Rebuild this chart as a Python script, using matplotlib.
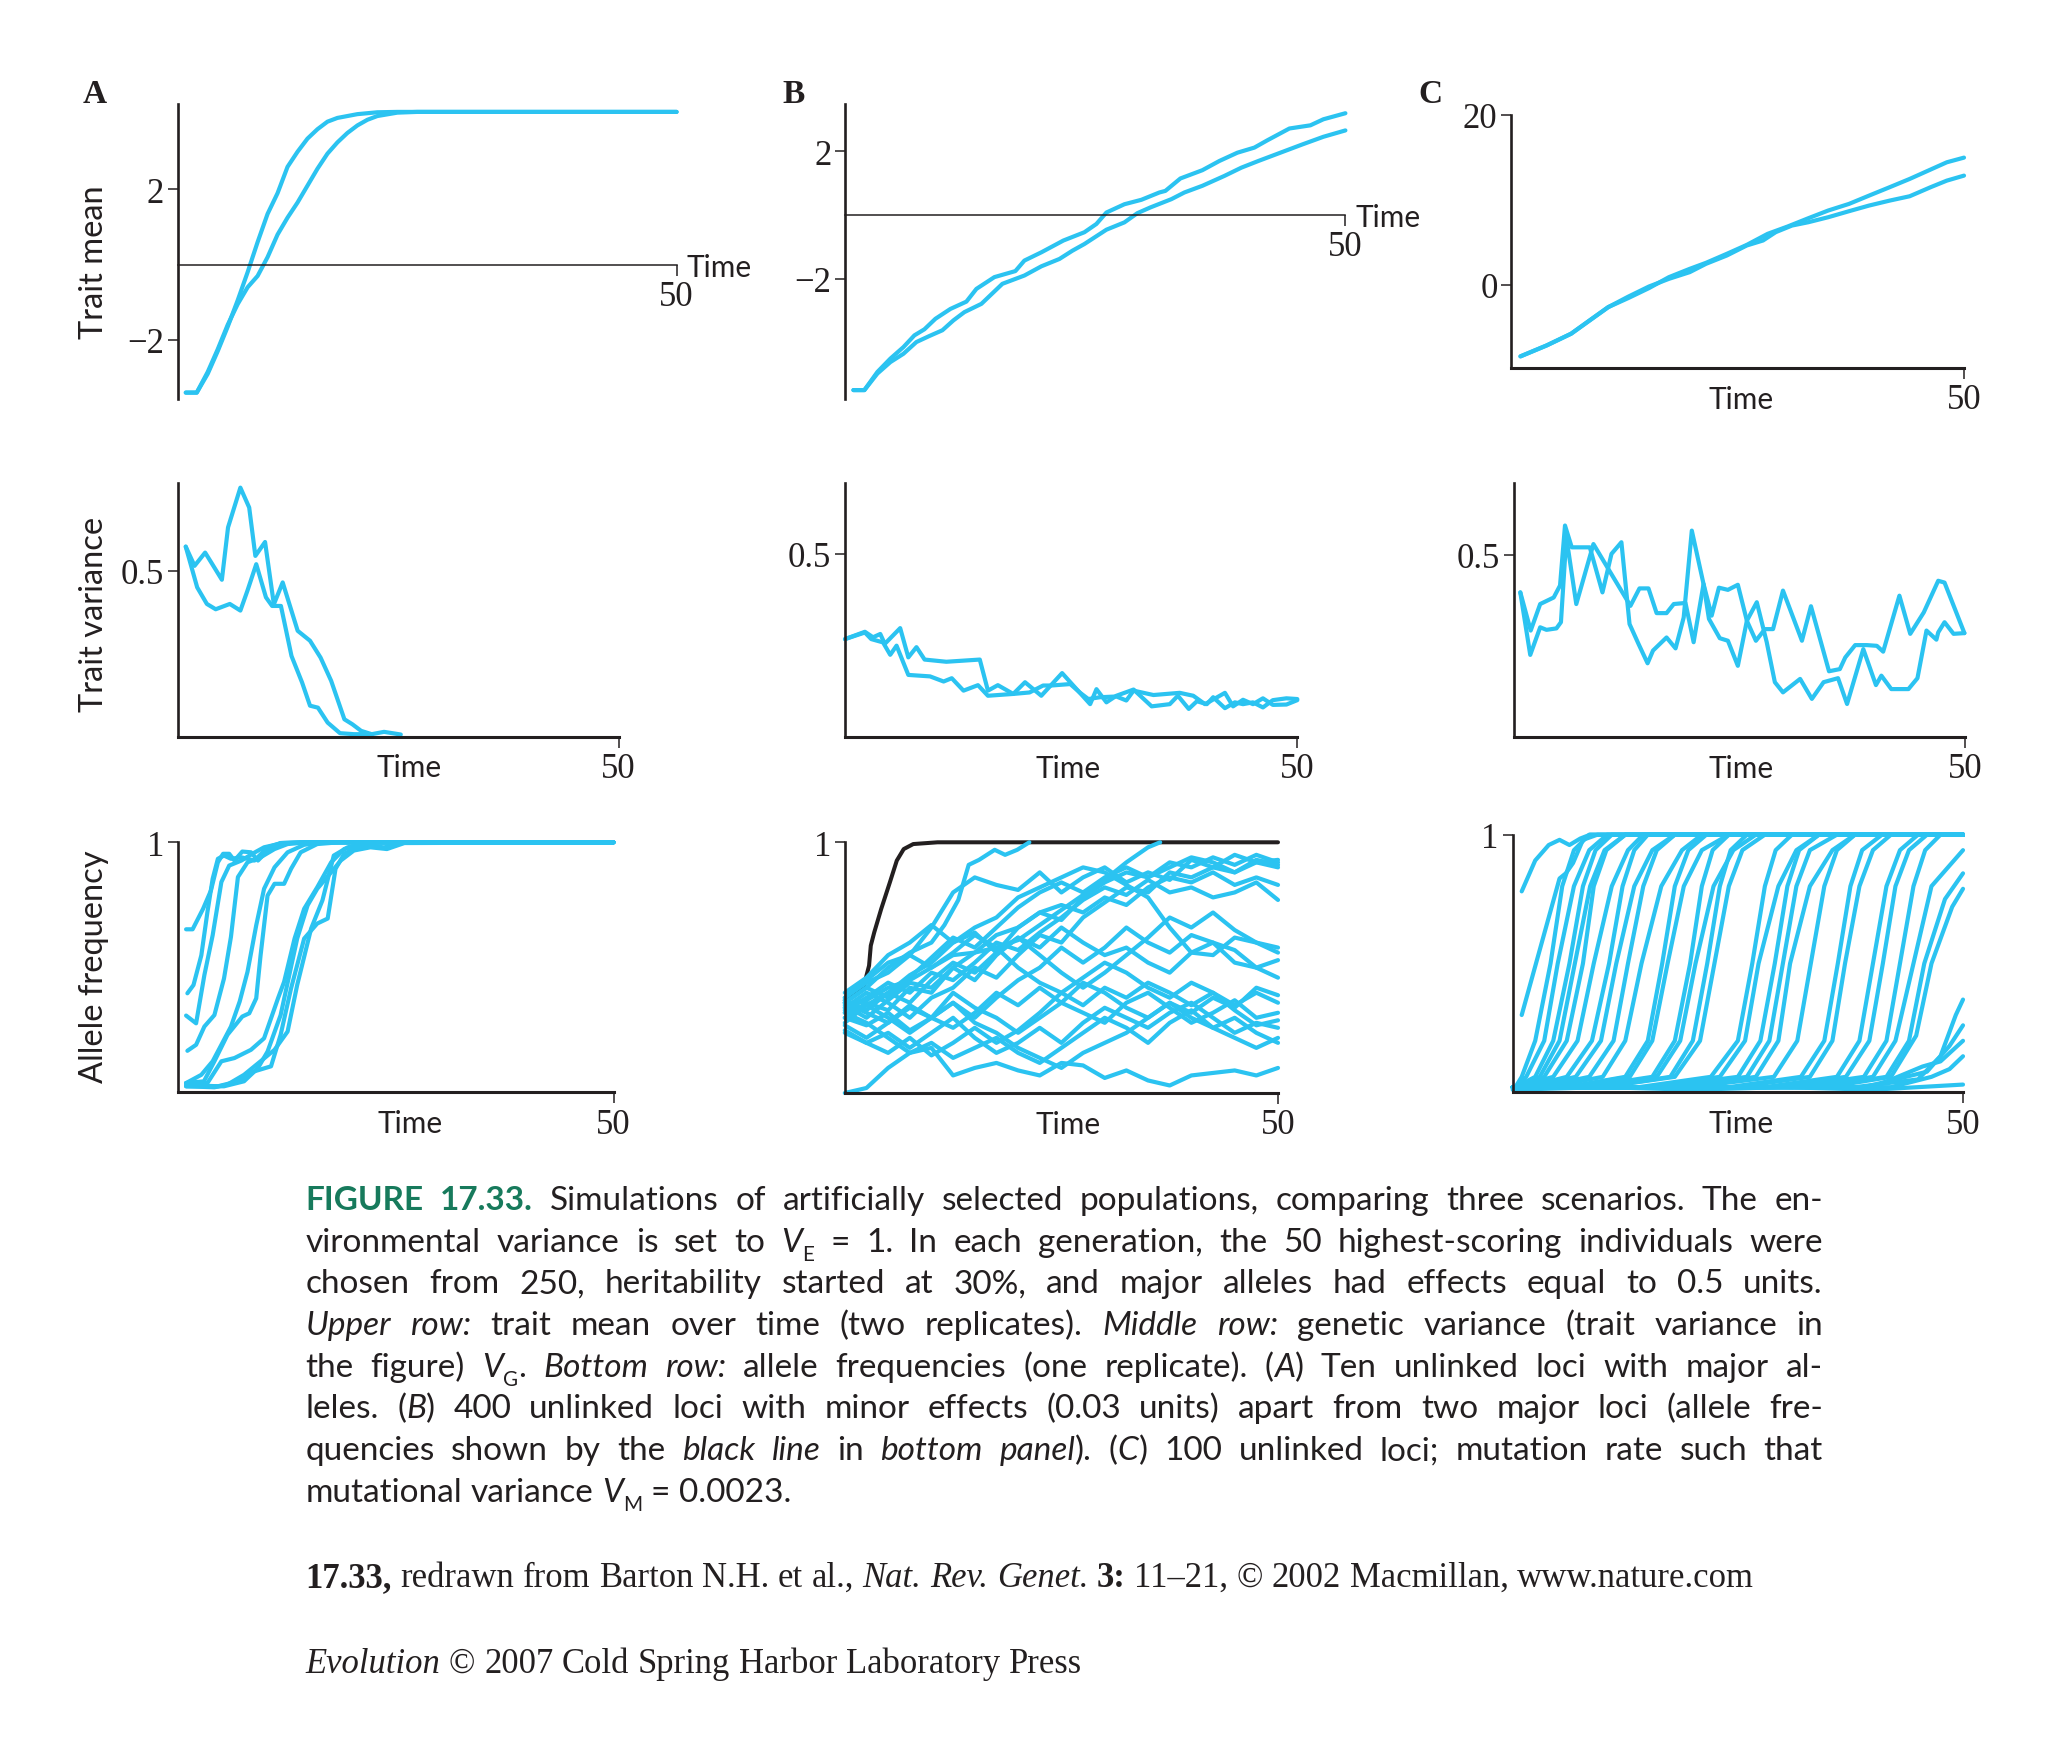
import matplotlib
matplotlib.use("Agg")
import matplotlib.pyplot as plt
import matplotlib.transforms as mtransforms

W, H, DPI = 2058, 1758, 100
BLUE = '#2bc3f1'
INK = '#231f20'
GREEN = '#177a5c'
SANS = 'Lato'
SERIF = 'Liberation Serif'

# ---------------- data ----------------
# top row: trait mean, two replicates
A_mean_t1 = [0.8, 1.9, 3, 4, 5, 6, 7, 8, 9, 10, 11, 12, 13, 14, 15, 16, 18, 20, 22, 50]
A_mean_y1 = [-3.4, -3.4, -2.9, -2.3, -1.65, -0.95, -0.2, 0.6, 1.35, 1.9, 2.6, 3.0, 3.35, 3.6,
             3.8, 3.9, 4.0, 4.05, 4.06, 4.06]
A_mean_t2 = [0.8, 1.9, 3, 4, 5, 6, 7, 8, 9, 10, 11, 12, 13, 14, 15, 16, 17, 18, 19, 20, 22, 24, 50]
A_mean_y2 = [-3.4, -3.4, -2.85, -2.25, -1.6, -1.05, -0.6, -0.3, 0.2, 0.8, 1.25, 1.65, 2.1, 2.55,
             2.95, 3.25, 3.5, 3.7, 3.85, 3.95, 4.04, 4.06, 4.06]

B_mean_t1 = [0.8, 1.9, 3.2, 4.5, 5.8, 6.9, 7.9, 9.0, 10.5, 12.1, 13.1, 14.9, 17.0, 17.9, 19.6, 21.8,
             23.9, 25.1, 26.1, 27.9, 29.6, 31.4, 32.0, 33.5, 35.7, 37.4, 39.2, 40.9, 42.2, 44.4,
             46.5, 47.8, 50]
B_mean_y1 = [-5.5, -5.5, -4.93, -4.51, -4.15, -3.78, -3.59, -3.26, -2.95, -2.72, -2.32, -1.95,
             -1.76, -1.43, -1.17, -0.8, -0.54, -0.28, 0.08, 0.34, 0.48, 0.71, 0.76, 1.15, 1.41,
             1.70, 1.96, 2.12, 2.35, 2.72, 2.82, 3.01, 3.2]
B_mean_t2 = [0.8, 1.9, 3.2, 4.5, 5.8, 7.1, 8.4, 9.7, 10.8, 11.9, 13.6, 15.7, 17.9, 19.6, 21.4, 22.7,
             23.9, 26.1, 27.9, 29.2, 30.5, 32.6, 33.9, 35.7, 37.9, 39.6, 41.3, 43.5, 45.7, 47.8, 50]
B_mean_y2 = [-5.5, -5.5, -4.98, -4.62, -4.36, -3.99, -3.80, -3.62, -3.31, -3.05, -2.79, -2.16,
             -1.90, -1.61, -1.38, -1.12, -0.91, -0.46, -0.23, 0.06, 0.24, 0.50, 0.71, 0.92, 1.23,
             1.49, 1.70, 1.96, 2.22, 2.46, 2.66]

C_mean_t1 = [1.0, 3.9, 6.6, 8.9, 10.7, 12.9, 15.2, 17.4, 19.7, 21.5, 23.8, 26.0, 28.3, 30.5, 32.8,
             35.0, 37.3, 39.5, 41.8, 44.0, 46.3, 48.1, 50]
C_mean_y1 = [-8.43, -7.14, -5.76, -4.0, -2.63, -1.57, -0.39, 0.9, 1.88, 2.59, 3.65, 4.7, 6.0, 6.86,
             7.84, 8.75, 9.53, 10.5, 11.5, 12.47, 13.57, 14.43, 14.98]
C_mean_t2 = [1.0, 3.9, 6.6, 8.9, 10.7, 12.9, 15.2, 17.4, 19.7, 21.5, 23.8, 26.0, 27.8, 29.2, 31.0,
             32.8, 35.0, 37.3, 39.5, 41.8, 44.0, 46.3, 48.1, 50]
C_mean_y2 = [-8.43, -7.14, -5.76, -4.0, -2.63, -1.4, -0.2, 0.7, 1.49, 2.47, 3.45, 4.63, 5.22, 6.2,
             6.98, 7.37, 7.96, 8.67, 9.33, 9.92, 10.43, 11.49, 12.27, 12.86]

# middle row: trait variance, two replicates
A_var_t1 = [0.9, 1.9, 3.1, 3.8, 5.0, 5.7, 7.1, 8.1, 8.8, 9.9, 10.9, 11.9, 13.6, 15.0, 16.2, 17.4,
            18.9, 19.8, 20.8, 22.0, 23.4, 25.3]
A_var_y1 = [0.573, 0.515, 0.555, 0.525, 0.473, 0.631, 0.751, 0.691, 0.545, 0.587, 0.399, 0.465,
            0.319, 0.289, 0.238, 0.168, 0.052, 0.037, 0.017, 0.007, 0.014, 0.006]
A_var_t2 = [0.9, 2.2, 3.3, 4.3, 5.9, 7.1, 7.9, 8.9, 10.0, 10.7, 11.7, 12.9, 14.1, 15.0, 15.9, 17.0,
            18.4, 20.0, 22.0]
A_var_y2 = [0.573, 0.45, 0.40, 0.384, 0.40, 0.38, 0.44, 0.52, 0.42, 0.394, 0.394, 0.243, 0.163,
            0.093, 0.087, 0.042, 0.01, 0.007, 0.007]

B_var_t1 = [0, 2.2, 3.1, 3.9, 4.4, 6.1, 7.0, 7.9, 8.8, 11.2, 14.9, 15.8, 16.9, 18.6, 19.9, 21.7,
            24.0, 25.2, 27.1, 27.8, 28.9, 30.0, 31.9, 33.9, 35.9, 36.8, 38.0, 38.9, 40.0, 40.7,
            42.0, 43.1, 44.0, 45.1, 46.2, 47.3, 48.8, 50]
B_var_y1 = [0.267, 0.287, 0.272, 0.281, 0.254, 0.297, 0.217, 0.245, 0.211, 0.205, 0.211, 0.126,
            0.141, 0.117, 0.149, 0.112, 0.174, 0.141, 0.089, 0.130, 0.094, 0.112, 0.129, 0.083,
            0.089, 0.112, 0.076, 0.097, 0.089, 0.108, 0.078, 0.094, 0.089, 0.094, 0.080, 0.100,
            0.105, 0.103]
B_var_t2 = [0, 2.2, 2.9, 4.2, 5.0, 5.7, 7.0, 9.4, 10.9, 11.8, 13.1, 14.7, 15.8, 18.6, 20.4, 21.9,
            22.8, 24.9, 26.0, 26.9, 28.2, 30.0, 31.1, 31.9, 34.1, 37.0, 38.5, 39.8, 42.0, 42.9,
            44.0, 45.1, 46.2, 47.3, 48.8, 50]
B_var_y2 = [0.267, 0.285, 0.267, 0.258, 0.224, 0.249, 0.169, 0.165, 0.151, 0.160, 0.126, 0.141,
            0.112, 0.117, 0.121, 0.140, 0.140, 0.144, 0.120, 0.103, 0.108, 0.110, 0.099, 0.126,
            0.114, 0.120, 0.112, 0.089, 0.120, 0.083, 0.101, 0.089, 0.105, 0.087, 0.088, 0.100]

C_var_t1 = [0.7, 1.85, 2.9, 4.4, 5.1, 5.65, 6.4, 8.4, 9.8, 10.8, 11.9, 12.8, 13.8, 14.8, 15.4,
            16.9, 17.9, 18.8, 19.7, 21.0, 21.6, 22.8, 23.7, 24.8, 25.8, 26.9, 28.0, 28.9, 29.8,
            31.7, 33.0, 34.3, 35.9, 36.9, 38.7, 40.1, 40.7, 41.8, 43.7, 44.7, 45.7, 46.8, 47.0,
            47.7, 48.7, 49.9]
C_var_y1 = [0.397, 0.292, 0.365, 0.383, 0.416, 0.581, 0.521, 0.521, 0.397, 0.503, 0.535, 0.31,
            0.255, 0.202, 0.237, 0.273, 0.243, 0.328, 0.567, 0.42, 0.324, 0.271, 0.264, 0.195,
            0.319, 0.37, 0.26, 0.15, 0.122, 0.159, 0.104, 0.15, 0.161, 0.09, 0.241, 0.142, 0.168,
            0.131, 0.131, 0.161, 0.292, 0.267, 0.287, 0.315, 0.283, 0.285]
C_var_t2 = [0.7, 1.8, 2.9, 3.6, 4.7, 5.2, 5.8, 6.9, 8.8, 12.9, 13.9, 14.9, 15.8, 16.9, 17.7, 19.0,
            19.9, 21.0, 21.9, 22.7, 23.7, 24.8, 25.8, 26.8, 27.8, 28.7, 29.8, 31.9, 32.9, 34.9,
            36.1, 36.7, 37.8, 39.1, 40.2, 40.9, 42.7, 43.9, 45.4, 47.0, 47.7, 49.9]
C_var_y2 = [0.397, 0.225, 0.301, 0.294, 0.298, 0.315, 0.549, 0.365, 0.53, 0.36, 0.408, 0.408,
            0.34, 0.34, 0.365, 0.368, 0.26, 0.42, 0.333, 0.41, 0.404, 0.418, 0.319, 0.264, 0.296,
            0.296, 0.402, 0.264, 0.359, 0.18, 0.186, 0.218, 0.252, 0.252, 0.25, 0.234, 0.388,
            0.283, 0.342, 0.429, 0.424, 0.285]

# bottom row A: ten loci with major alleles
A_freq_t = [
    [0.95, 1.7, 2.9, 3.8, 4.6, 5.2, 5.9, 6.5, 7.4, 8.4, 9.2, 10.3, 11.8, 14.5, 50],
    [1.1, 1.8, 2.7, 3.4, 4.0, 4.6, 5.3, 6.1, 7.3, 8.8, 10.3, 11.8, 14.0, 50],
    [0.95, 2.1, 3.05, 4.0, 5.0, 5.9, 7.3, 8.6, 9.9, 11.8, 14.5, 50],
    [1.1, 2.1, 3.05, 4.2, 5.3, 6.1, 6.9, 8.0, 9.5, 11.1, 12.6, 15.0, 50],
    [0.95, 2.7, 4.0, 5.0, 6.1, 7.1, 8.0, 9.0, 9.9, 11.1, 12.6, 14.5, 16.5, 50],
    [0.95, 3.0, 4.2, 5.7, 7.4, 8.2, 9.0, 9.5, 10.3, 11.1, 12.2, 13.0, 14.1, 16.0, 18.5, 50],
    [0.95, 3.4, 5.0, 6.5, 8.4, 9.9, 11.5, 12.2, 13.4, 14.5, 16.0, 17.6, 19.1, 21.0, 23.0, 50],
    [0.95, 4.6, 6.9, 8.8, 10.7, 11.8, 13.0, 14.5, 16.0, 17.2, 18.1, 19.1, 21.0, 23.7, 25.6, 27.0, 50],
    [0.95, 5.3, 7.6, 9.2, 10.3, 11.8, 13.7, 14.9, 16.0, 17.6, 18.7, 20.2, 22.1, 24.0, 26.0, 50],
    [0.95, 4.2, 5.7, 7.6, 9.5, 11.1, 12.6, 13.7, 15.3, 16.6, 17.9, 19.5, 22.0, 50],
]
A_freq_y = [
    [0.652, 0.652, 0.734, 0.807, 0.92, 0.954, 0.954, 0.927, 0.963, 0.96, 0.927, 0.967, 0.997, 1.0, 1.0],
    [0.396, 0.429, 0.548, 0.721, 0.854, 0.934, 0.947, 0.934, 0.94, 0.927, 0.98, 0.997, 1.0, 1.0],
    [0.307, 0.276, 0.469, 0.628, 0.841, 0.907, 0.927, 0.955, 0.98, 0.995, 1.0, 1.0],
    [0.166, 0.19, 0.263, 0.309, 0.455, 0.622, 0.861, 0.92, 0.94, 0.973, 0.993, 1.0, 1.0],
    [0.037, 0.07, 0.124, 0.19, 0.263, 0.363, 0.482, 0.668, 0.814, 0.9, 0.96, 0.99, 1.0, 1.0],
    [0.037, 0.044, 0.124, 0.23, 0.303, 0.316, 0.376, 0.548, 0.787, 0.834, 0.834, 0.894, 0.96, 0.993, 1.0, 1.0],
    [0.037, 0.037, 0.124, 0.137, 0.17, 0.216, 0.376, 0.442, 0.615, 0.734, 0.82, 0.92, 0.973, 0.99, 1.0, 1.0],
    [0.03, 0.024, 0.044, 0.084, 0.104, 0.23, 0.416, 0.615, 0.675, 0.695, 0.894, 0.954, 0.987, 0.98, 0.997, 1.0, 1.0],
    [0.024, 0.024, 0.044, 0.097, 0.163, 0.309, 0.615, 0.748, 0.814, 0.88, 0.927, 0.967, 0.98, 0.973, 0.997, 1.0],
    [0.024, 0.02, 0.031, 0.07, 0.124, 0.17, 0.243, 0.429, 0.655, 0.768, 0.947, 0.98, 1.0, 1.0],
]

# bottom row B: 400 minor loci (blue) and the two major loci (black)
B_major_t = [0, 1, 2.2, 2.8, 3.0, 3.4, 4.2, 5.2, 6.0, 6.8, 7.9, 10.7, 50]
B_major_y = [0.37, 0.39, 0.428, 0.508, 0.588, 0.641, 0.734, 0.84, 0.927, 0.973, 0.993, 1.0, 1.0]
B_grid_t = [0, 2.5, 5, 7.5, 10, 12.5, 15, 17.5, 20, 22.5, 25, 27.5, 30, 32.5, 35, 37.5, 40, 42.5,
            45, 47.5, 50]
B_fixed_t = [
    [0, 2.5, 5, 7.5, 10, 11.5, 13.1, 14.3, 15.5, 17.3, 18.5, 19.9, 21.3],
    [0, 2.5, 5, 7.5, 10, 12.5, 15, 17.5, 20, 22.5, 25, 27.5, 30, 32.5, 35, 36.4],
]
B_fixed_y = [
    [0.36, 0.42, 0.5, 0.56, 0.6, 0.67, 0.77, 0.91, 0.93, 0.97, 0.95, 0.97, 1.0],
    [0.34, 0.37, 0.42, 0.45, 0.5, 0.55, 0.56, 0.58, 0.61, 0.67, 0.73, 0.79, 0.85, 0.92, 0.98, 1.0],
]
B_minor_y = [
    [0.38, 0.45, 0.52, 0.55, 0.66, 0.8, 0.86, 0.83, 0.81, 0.88, 0.8, 0.86, 0.9, 0.84, 0.88, 0.85, 0.93, 0.9, 0.95, 0.92, 0.93],
    [0.0, 0.02, 0.1, 0.16, 0.18, 0.07, 0.1, 0.12, 0.09, 0.07, 0.12, 0.11, 0.06, 0.09, 0.05, 0.03, 0.07, 0.08, 0.09, 0.07, 0.1],
    [0.32, 0.35, 0.4, 0.47, 0.52, 0.6, 0.66, 0.7, 0.78, 0.82, 0.86, 0.9, 0.88, 0.83, 0.78, 0.66, 0.56, 0.55, 0.62, 0.6, 0.56],
    [0.3, 0.36, 0.33, 0.42, 0.4, 0.5, 0.45, 0.55, 0.62, 0.58, 0.66, 0.6, 0.55, 0.58, 0.52, 0.48, 0.56, 0.6, 0.57, 0.5, 0.53],
    [0.35, 0.3, 0.37, 0.44, 0.42, 0.5, 0.56, 0.63, 0.66, 0.72, 0.75, 0.72, 0.78, 0.75, 0.82, 0.86, 0.84, 0.88, 0.83, 0.86, 0.83],
    [0.33, 0.38, 0.44, 0.4, 0.48, 0.45, 0.52, 0.6, 0.57, 0.64, 0.7, 0.77, 0.82, 0.79, 0.85, 0.8, 0.82, 0.78, 0.8, 0.84, 0.77],
    [0.37, 0.33, 0.4, 0.36, 0.45, 0.52, 0.48, 0.56, 0.66, 0.72, 0.69, 0.78, 0.84, 0.88, 0.86, 0.92, 0.9, 0.94, 0.91, 0.95, 0.92],
    [0.34, 0.4, 0.36, 0.3, 0.38, 0.42, 0.5, 0.46, 0.55, 0.63, 0.6, 0.7, 0.76, 0.82, 0.8, 0.88, 0.86, 0.9, 0.88, 0.93, 0.91],
    [0.3, 0.27, 0.32, 0.25, 0.3, 0.36, 0.3, 0.38, 0.45, 0.5, 0.58, 0.52, 0.58, 0.66, 0.6, 0.56, 0.63, 0.6, 0.52, 0.5, 0.46],
    [0.36, 0.32, 0.28, 0.34, 0.3, 0.26, 0.32, 0.4, 0.35, 0.42, 0.36, 0.44, 0.4, 0.34, 0.3, 0.36, 0.32, 0.38, 0.34, 0.42, 0.39],
    [0.27, 0.22, 0.28, 0.35, 0.3, 0.4, 0.34, 0.3, 0.24, 0.3, 0.36, 0.32, 0.28, 0.36, 0.4, 0.34, 0.28, 0.32, 0.37, 0.3, 0.32],
    [0.25, 0.2, 0.24, 0.18, 0.24, 0.3, 0.22, 0.16, 0.2, 0.26, 0.2, 0.28, 0.34, 0.3, 0.26, 0.32, 0.36, 0.3, 0.24, 0.28, 0.26],
    [0.32, 0.28, 0.22, 0.16, 0.2, 0.14, 0.18, 0.22, 0.16, 0.12, 0.18, 0.24, 0.3, 0.26, 0.2, 0.28, 0.33, 0.26, 0.22, 0.18, 0.22],
    [0.28, 0.35, 0.3, 0.24, 0.3, 0.36, 0.28, 0.24, 0.18, 0.14, 0.1, 0.16, 0.2, 0.24, 0.3, 0.36, 0.3, 0.26, 0.3, 0.24, 0.2],
    [0.38, 0.44, 0.48, 0.55, 0.5, 0.56, 0.63, 0.58, 0.5, 0.44, 0.4, 0.46, 0.52, 0.48, 0.42, 0.38, 0.44, 0.4, 0.35, 0.4, 0.36],
    [0.4, 0.46, 0.55, 0.6, 0.67, 0.6, 0.64, 0.56, 0.62, 0.55, 0.48, 0.42, 0.48, 0.55, 0.62, 0.7, 0.66, 0.72, 0.65, 0.6, 0.58],
    [0.24, 0.2, 0.16, 0.22, 0.15, 0.2, 0.26, 0.2, 0.25, 0.32, 0.4, 0.35, 0.42, 0.38, 0.44, 0.4, 0.35, 0.4, 0.33, 0.27, 0.29],
    [0.36, 0.42, 0.38, 0.46, 0.54, 0.62, 0.58, 0.66, 0.74, 0.8, 0.84, 0.8, 0.86, 0.9, 0.86, 0.9, 0.94, 0.92, 0.88, 0.92, 0.9],
]

# bottom row C: 100 loci with mutation; most sweeps share these frequency levels
C_sweep_levels = [0.02, 0.06, 0.2, 0.5, 0.8, 0.94, 1.0]
C_sweep_t = [
    [0.3, 1.0, 2.5, 4.2, 5.5, 6.8, 8.5],
    [0.3, 1.5, 3.5, 5.0, 6.8, 8.5, 10.5],
    [0.3, 2.5, 4.5, 6.3, 7.8, 9.2, 11.0],
    [0.3, 3.0, 5.2, 6.9, 8.6, 10.2, 12.5],
    [0.3, 3.5, 6.0, 7.8, 9.0, 10.4, 12.5],
    [0.3, 4.5, 7.2, 9.0, 11.0, 12.8, 14.5],
    [1.5, 6.0, 8.8, 10.7, 12.2, 13.5, 15.0],
    [2.0, 7.0, 9.8, 11.5, 13.5, 15.5, 18.0],
    [3.0, 8.5, 11.2, 12.8, 14.5, 16.0, 18.0],
    [4.0, 10.0, 12.5, 14.3, 16.5, 18.8, 21.0],
    [6.0, 12.5, 15.0, 16.6, 18.0, 19.5, 21.5],
    [6.0, 13.0, 15.5, 17.2, 19.0, 21.0, 24.0],
    [8.0, 15.5, 18.0, 19.7, 21.0, 22.2, 24.0],
    [9.0, 16.0, 18.6, 20.3, 22.3, 24.5, 27.0],
    [10.0, 17.5, 20.0, 21.6, 23.0, 24.2, 26.0],
    [10.0, 18.0, 20.8, 22.4, 24.0, 25.5, 28.0],
    [14.0, 22.0, 25.0, 26.6, 28.0, 29.2, 31.0],
    [15.0, 23.0, 25.8, 27.3, 29.5, 31.5, 34.0],
    [16.0, 25.0, 27.5, 29.1, 30.5, 31.8, 34.0],
    [18.0, 26.0, 28.5, 30.0, 31.5, 33.0, 36.0],
    [19.0, 27.0, 29.5, 30.8, 33.0, 35.5, 38.0],
    [20.0, 29.0, 31.6, 33.1, 34.6, 36.0, 38.0],
    [24.0, 32.0, 34.6, 36.1, 37.5, 38.8, 41.0],
    [25.0, 33.0, 35.5, 36.9, 38.5, 40.0, 42.0],
    [28.0, 36.0, 38.5, 40.0, 41.5, 43.0, 45.0],
    [29.0, 37.0, 39.6, 41.1, 42.5, 44.0, 46.0],
    [31.0, 39.0, 41.5, 43.0, 44.5, 45.8, 47.5],
]
C_other_t = [
    [1.0, 2.5, 4.0, 5.2, 6.3, 7.5, 8.6, 50],
    [1.0, 5.2, 5.9, 6.7, 7.8, 9.4, 50],
    [0, 33, 40, 42.5, 44.5, 46.5, 50],
    [0, 34, 41.5, 44.0, 45.7, 48.0, 50],
    [0, 35, 42, 44.8, 46.5, 48.8, 50],
    [0, 38, 45, 47.5, 49.2, 50],
    [0, 39, 46, 48.5, 50],
    [0, 40, 45.5, 47.5, 50],
    [0, 42, 46.5, 48.5, 50],
    [0, 10, 20, 30, 40, 50],
]
C_other_y = [
    [0.78, 0.9, 0.96, 0.98, 0.96, 0.985, 1.0, 1.0],
    [0.3, 0.83, 0.85, 0.89, 0.98, 1.0, 1.0],
    [0.02, 0.02, 0.06, 0.2, 0.5, 0.8, 0.94],
    [0.02, 0.02, 0.06, 0.2, 0.5, 0.75, 0.85],
    [0.02, 0.02, 0.06, 0.22, 0.5, 0.72, 0.79],
    [0.02, 0.02, 0.05, 0.14, 0.3, 0.36],
    [0.02, 0.02, 0.08, 0.18, 0.26],
    [0.02, 0.02, 0.1, 0.12, 0.2],
    [0.02, 0.02, 0.06, 0.09, 0.14],
    [0.01, 0.02, 0.01, 0.02, 0.01, 0.03],
]

# ---------------- caption text ----------------
CAPTION = [
    [("FIGURE 17.33.", 'fig'), (" Simulations of artificially selected populations, comparing three scenarios. The en-", 'rm')],
    [("vironmental variance is set to ", 'rm'), ("V", 'it'), ("E", 'sub'),
     (" = 1. In each generation, the 50 highest-scoring individuals were", 'rm')],
    [("chosen from 250, heritability started at 30%, and major alleles had effects equal to 0.5 units.", 'rm')],
    [("Upper row:", 'it'), (" trait mean over time (two replicates). ", 'rm'), ("Middle row:", 'it'),
     (" genetic variance (trait variance in", 'rm')],
    [("the figure) ", 'rm'), ("V", 'it'), ("G", 'sub'), (". ", 'rm'), ("Bottom row:", 'it'),
     (" allele frequencies (one replicate). (", 'rm'), ("A", 'it'), (") Ten unlinked loci with major al-", 'rm')],
    [("leles. (", 'rm'), ("B", 'it'),
     (") 400 unlinked loci with minor effects (0.03 units) apart from two major loci (allele fre-", 'rm')],
    [("quencies shown by the ", 'rm'), ("black line", 'it'), (" in ", 'rm'), ("bottom panel", 'it'),
     ("). (", 'rm'), ("C", 'it'), (") 100 unlinked loci; mutation rate such that", 'rm')],
    [("mutational variance ", 'rm'), ("V", 'it'), ("M", 'sub'), (" = 0.0023.", 'rm')],
]
CREDITS = [
    [("17.33,", 'b'), (" redrawn from Barton N.H. et al., ", 'rm'), ("Nat. Rev. Genet.", 'it'), (" ", 'rm'),
     ("3:", 'b'), (" 11–21, © 2002 Macmillan, www.nature.com", 'rm')],
    [("Evolution", 'it'), (" © 2007 Cold Spring Harbor Laboratory Press", 'rm')],
]

# ---------------- figure ----------------
fig = plt.figure(figsize=(W / DPI, H / DPI), dpi=DPI)
fig.patch.set_facecolor('white')


def add_panel(x0, x1, ytop, ybot, ylim, yticks, ylabels, zero_axis=False):
    ax = fig.add_axes([x0 / W, 1 - ybot / H, (x1 - x0) / W, (ybot - ytop) / H])
    ax.patch.set_visible(False)
    ax.set_xlim(0, 50)
    ax.set_ylim(*ylim)
    for s in ('top', 'right'):
        ax.spines[s].set_visible(False)
    ax.spines['left'].set_linewidth(1.9)
    ax.spines['left'].set_color(INK)
    ax.spines['bottom'].set_color(INK)
    if zero_axis:
        ax.spines['bottom'].set_position(('data', 0))
        ax.spines['bottom'].set_linewidth(1.1)
    else:
        ax.spines['bottom'].set_linewidth(2.2)
    ax.set_xticks([50])
    ax.set_xticklabels(['50'])
    ax.set_yticks(yticks)
    ax.set_yticklabels(ylabels)
    ax.tick_params(axis='x', direction='out', length=8, width=1.1, pad=3, colors=INK,
                   labelsize=25, labelfontfamily=SERIF)
    ax.tick_params(axis='y', direction='out', length=7, width=1.1, pad=3, colors=INK,
                   labelsize=25, labelfontfamily=SERIF)
    return ax


def time_label(ax, t, zero_axis=False):
    if zero_axis:
        tr = ax.transData + mtransforms.ScaledTranslation(10 / DPI, -11 / DPI, fig.dpi_scale_trans)
        ax.text(t, 0, 'Time', transform=tr, ha='left', va='baseline', fontsize=21.5,
                family=SANS, color=INK)
    else:
        tr = mtransforms.blended_transform_factory(ax.transData, ax.transAxes) + \
            mtransforms.ScaledTranslation(0, -40 / DPI, fig.dpi_scale_trans)
        ax.text(t, 0, 'Time', transform=tr, ha='center', va='baseline', fontsize=21.5,
                family=SANS, color=INK)


def blue(ax, t, y, **kw):
    ax.plot(t, y, color=BLUE, lw=3.0, solid_capstyle='round', solid_joinstyle='round',
            clip_on=False, **kw)


# top row
ax = add_panel(177.8, 676.6, 105, 400, (-3.57, 4.27), [-2, 2], ['−2', '2'], zero_axis=True)
blue(ax, A_mean_t1, A_mean_y1)
blue(ax, A_mean_t2, A_mean_y2)
time_label(ax, 50, zero_axis=True)

ax = add_panel(845.4, 1345.4, 105, 400, (-5.78, 3.49), [-2, 2], ['−2', '2'], zero_axis=True)
blue(ax, B_mean_t1, B_mean_y1)
blue(ax, B_mean_t2, B_mean_y2)
time_label(ax, 50, zero_axis=True)

ax = add_panel(1511.4, 1964, 116, 369, (-9.8, 20), [0, 20], ['0', '20'])
blue(ax, C_mean_t1, C_mean_y1)
blue(ax, C_mean_t2, C_mean_y2)
time_label(ax, 25.4)

# middle row
ax = add_panel(177.8, 618.5, 484, 737.5, (0, 0.765), [0.5], ['0.5'])
blue(ax, A_var_t1, A_var_y1)
blue(ax, A_var_t2, A_var_y2)
time_label(ax, 26.2)

ax = add_panel(845, 1297.3, 484, 737.7, (0, 0.694), [0.5], ['0.5'])
blue(ax, B_var_t1, B_var_y1)
blue(ax, B_var_t2, B_var_y2)
time_label(ax, 24.7)

ax = add_panel(1514, 1965.3, 484, 737.7, (0, 0.698), [0.5], ['0.5'])
blue(ax, C_var_t1, C_var_y1)
blue(ax, C_var_t2, C_var_y2)
time_label(ax, 25.2)

# bottom row
ax = add_panel(177.8, 613.5, 843.3, 1093.3, (0, 1), [1], ['1'])
for t, y in zip(A_freq_t, A_freq_y):
    blue(ax, t, y)
time_label(ax, 26.6)

ax = add_panel(844.8, 1278, 843.3, 1094, (0, 1), [1], ['1'])
ax.plot(B_major_t, B_major_y, color=INK, lw=2.9, solid_capstyle='round', clip_on=False)
for t, y in zip(B_fixed_t, B_fixed_y):
    blue(ax, t, y)
for y in B_minor_y:
    blue(ax, B_grid_t, y)
time_label(ax, 25.8)

ax = add_panel(1512.7, 1963, 835.7, 1093.3, (0, 1), [1], ['1'])
for knots in C_sweep_t:
    blue(ax, [0] + knots + [50], [C_sweep_levels[0]] + C_sweep_levels + [1.0])
for t, y in zip(C_other_t, C_other_y):
    blue(ax, t, y)
time_label(ax, 25.4)

# row labels and panel letters
for label, yc in (('Trait mean', 261.7), ('Trait variance', 614), ('Allele frequency', 966.7)):
    fig.text(94 / W, 1 - yc / H, label, rotation=90, ha='center', va='center', fontsize=23.5,
             family=SANS, color=INK)
for letter, xl in (('A', 83), ('B', 782), ('C', 1418)):
    fig.text(xl / W, 1 - 103.3 / H, letter, ha='left', va='baseline', fontsize=24,
             family=SERIF, weight='bold', color=INK)

# ---------------- caption layout ----------------
renderer = fig.canvas.get_renderer()


def split_words(runs):
    words = [[]]
    for text, style in runs:
        parts = text.split(' ')
        for i, p in enumerate(parts):
            if i > 0:
                words.append([])
            if p:
                words[-1].append((p, style))
    return [w for w in words if w]


def measure(s, props, fs):
    t = fig.text(0, 0, s, fontsize=fs, **props)
    w = t.get_window_extent(renderer).width
    t.remove()
    return w


def piece_props(style, styles):
    p = dict(styles[style])
    scale = p.pop('scale', 1.0)
    return p, scale


def word_width(word, styles, fs):
    total = 0
    for s, st in word:
        p, sc = piece_props(st, styles)
        total += measure(s, p, fs * sc)
    return total


def space_width(styles, fs):
    return measure('a a', dict(styles['rm']), fs) - measure('aa', dict(styles['rm']), fs)


def natural_width(runs, styles, fs):
    words = split_words(runs)
    return sum(word_width(w, styles, fs) for w in words) + space_width(styles, fs) * (len(words) - 1)


def draw_line(runs, styles, fs, x_left, baseline, width=None):
    words = split_words(runs)
    widths = [word_width(w, styles, fs) for w in words]
    sp = space_width(styles, fs)
    gap = sp if width is None else (width - sum(widths)) / (len(words) - 1)
    x = x_left
    for w, ww in zip(words, widths):
        xx = x
        for s, st in w:
            p, sc = piece_props(st, styles)
            dy = 0.28 * fs * DPI / 72 if st == 'sub' else 0
            fig.text(xx / W, 1 - (baseline + dy) / H, s, fontsize=fs * sc, ha='left',
                     va='baseline', **p)
            xx += measure(s, p, fs * sc)
        x += ww + gap


cap_styles = {
    'rm': dict(family=SANS, color=INK),
    'it': dict(family=SANS, style='italic', color=INK),
    'fig': dict(family=SANS, weight='bold', color=GREEN),
    'sub': dict(family=SANS, color=INK, scale=0.62),
}
cap_left, cap_right = 305.5, 1823
cap_w = cap_right - cap_left
fs0 = 24
widest = max(natural_width(r, cap_styles, fs0) for r in CAPTION[:-1])
cap_fs = min(fs0, fs0 * 0.99 * cap_w / widest)
for i, runs in enumerate(CAPTION):
    last = i == len(CAPTION) - 1
    draw_line(runs, cap_styles, cap_fs, cap_left, 1210 + 41.7 * i, None if last else cap_w)

cred_styles = {
    'rm': dict(family=SERIF, color=INK),
    'it': dict(family=SERIF, style='italic', color=INK),
    'b': dict(family=SERIF, weight='bold', color=INK),
}
cred_fs = 20 * 1449 / natural_width(CREDITS[0], cred_styles, 20)
draw_line(CREDITS[0], cred_styles, cred_fs, 305.5, 1586.7)
draw_line(CREDITS[1], cred_styles, cred_fs, 305.5, 1673)

fig.savefig('out.png', dpi=DPI)
